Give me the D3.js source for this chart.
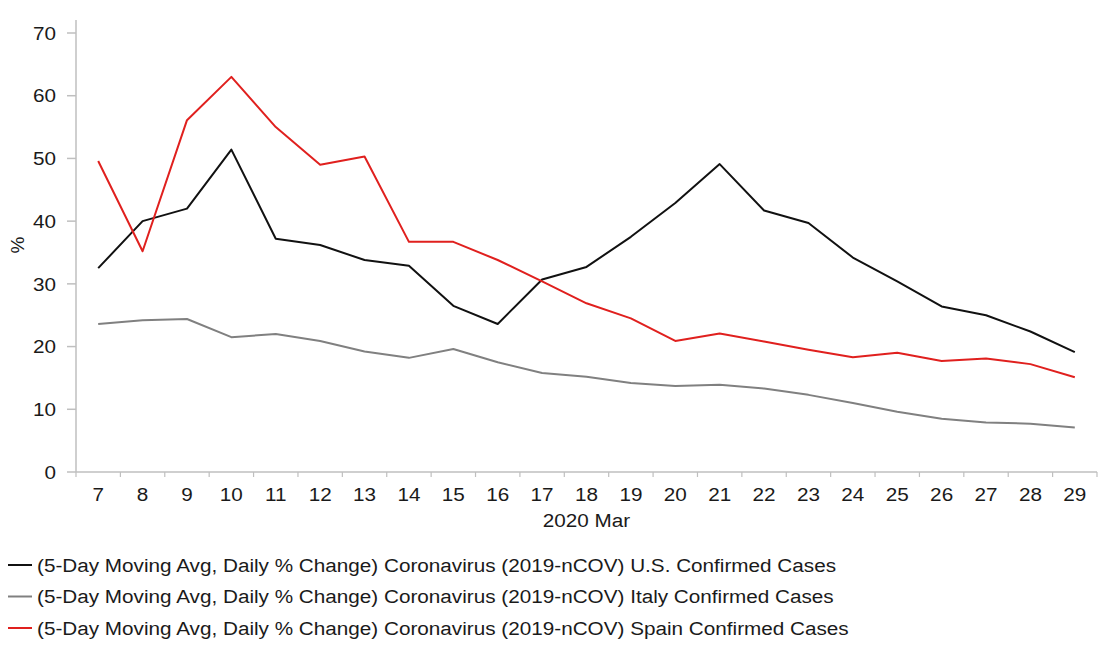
<!DOCTYPE html>
<html>
<head>
<meta charset="utf-8">
<script src="https://cdn.jsdelivr.net/npm/d3@7"></script>
<style>
  body { margin: 0; background: #fff; }
  text { font-family: "Liberation Sans", Arial, sans-serif; fill: #1a1a1a; font-size: 19px; }
</style>
</head>
<body>
<div id="chart"></div>
<script>
// Days of March 2020
const days = ["7","8","9","10","11","12","13","14","15","16","17","18","19","20","21","22","23","24","25","26","27","28","29"];

// 5-day moving avg, daily % change
const usValues = [32.5, 40.0, 42.0, 51.4, 37.2, 36.2, 33.8, 32.9, 26.5, 23.6, 30.7, 32.7, 37.5, 42.9, 49.1, 41.7, 39.7, 34.2, 30.4, 26.4, 25.0, 22.4, 19.1];
const italyValues = [23.6, 24.2, 24.4, 21.5, 22.0, 20.9, 19.2, 18.2, 19.6, 17.5, 15.8, 15.2, 14.2, 13.7, 13.9, 13.3, 12.3, 11.0, 9.6, 8.5, 7.9, 7.7, 7.1];
const spainValues = [49.6, 35.2, 56.1, 63.0, 55.0, 49.0, 50.3, 36.7, 36.7, 33.8, 30.4, 26.9, 24.5, 20.9, 22.1, 20.8, 19.5, 18.3, 19.0, 17.7, 18.1, 17.2, 15.1];

const seriesNames = [
  "(5-Day Moving Avg, Daily % Change) Coronavirus (2019-nCOV) U.S. Confirmed Cases",
  "(5-Day Moving Avg, Daily % Change) Coronavirus (2019-nCOV) Italy Confirmed Cases",
  "(5-Day Moving Avg, Daily % Change) Coronavirus (2019-nCOV) Spain Confirmed Cases"
];
const yTicks = [0, 10, 20, 30, 40, 50, 60, 70];

const w = 1119, h = 656;
const plotLeft = 76, plotRight = 1097, plotTop = 33, plotBottom = 472;
const colors = ["#111111", "#808080", "#e0201e"];
const axisColor = "#bfbfbf";
// the original text is a little wider than Arial
const stretch = 1.09;

const svg = d3.select("#chart")
  .append("svg")
  .attr("width", w)
  .attr("height", h);

// Scales
const xScale = d3.scaleBand().domain(days).range([plotLeft, plotRight]);
const yScale = d3.scaleLinear().domain([0, 70]).range([plotBottom, plotTop]);

// Y axis
const yAxis = svg.append("g").attr("transform", `translate(${plotLeft},0)`);
yAxis.append("line")
  .attr("x1", 0).attr("x2", 0)
  .attr("y1", 20).attr("y2", plotBottom)
  .attr("stroke", axisColor).attr("stroke-width", 1.5);
yAxis.selectAll("line.tick")
  .data(yTicks)
  .enter()
  .append("line")
  .attr("class", "tick")
  .attr("x1", -9).attr("x2", 0)
  .attr("y1", d => yScale(d)).attr("y2", d => yScale(d))
  .attr("stroke", axisColor).attr("stroke-width", 1.5);
yAxis.selectAll("text")
  .data(yTicks)
  .enter()
  .append("text")
  .attr("transform", d => `translate(-20, ${yScale(d)}) scale(${stretch},1)`)
  .attr("dy", "0.35em")
  .attr("text-anchor", "end")
  .text(d => d);

svg.append("text")
  .attr("transform", "translate(24, 245) rotate(-90)")
  .attr("text-anchor", "middle")
  .text("%");

// X axis
const xAxis = svg.append("g").attr("transform", `translate(0,${plotBottom})`);
xAxis.append("line")
  .attr("x1", plotLeft).attr("x2", plotRight)
  .attr("stroke", axisColor).attr("stroke-width", 1.5);
const edges = days.map(d => xScale(d)).concat([plotRight]);
xAxis.selectAll("line.tick")
  .data(edges)
  .enter()
  .append("line")
  .attr("class", "tick")
  .attr("x1", d => d).attr("x2", d => d)
  .attr("y1", 0).attr("y2", 5)
  .attr("stroke", axisColor).attr("stroke-width", 1.2);
xAxis.selectAll("text")
  .data(days)
  .enter()
  .append("text")
  .attr("transform", d => `translate(${xScale(d) + xScale.bandwidth() / 2}, 29) scale(${stretch},1)`)
  .attr("text-anchor", "middle")
  .text(d => d);

svg.append("text")
  .attr("transform", `translate(${(plotLeft + plotRight) / 2}, 527) scale(${stretch},1)`)
  .attr("text-anchor", "middle")
  .text("2020 Mar");

// Lines
const line = d3.line()
  .x((d, i) => xScale(days[i]) + xScale.bandwidth() / 2)
  .y(d => yScale(d));

[usValues, italyValues, spainValues].forEach((vals, i) => {
  svg.append("path")
    .datum(vals)
    .attr("d", line)
    .attr("fill", "none")
    .attr("stroke", colors[i])
    .attr("stroke-width", 2)
    .attr("stroke-linejoin", "round");
});

// Legend
const legend = svg.selectAll("g.legend")
  .data(seriesNames)
  .enter()
  .append("g")
  .attr("class", "legend")
  .attr("transform", (d, i) => `translate(8, ${565 + i * 31.5})`);
legend.append("line")
  .attr("x1", 0).attr("x2", 24)
  .attr("stroke", (d, i) => colors[i])
  .attr("stroke-width", 2);
legend.append("text")
  .attr("transform", `translate(29, 0) scale(${stretch},1)`)
  .attr("dy", "0.35em")
  .text(d => d);
</script>
</body>
</html>
